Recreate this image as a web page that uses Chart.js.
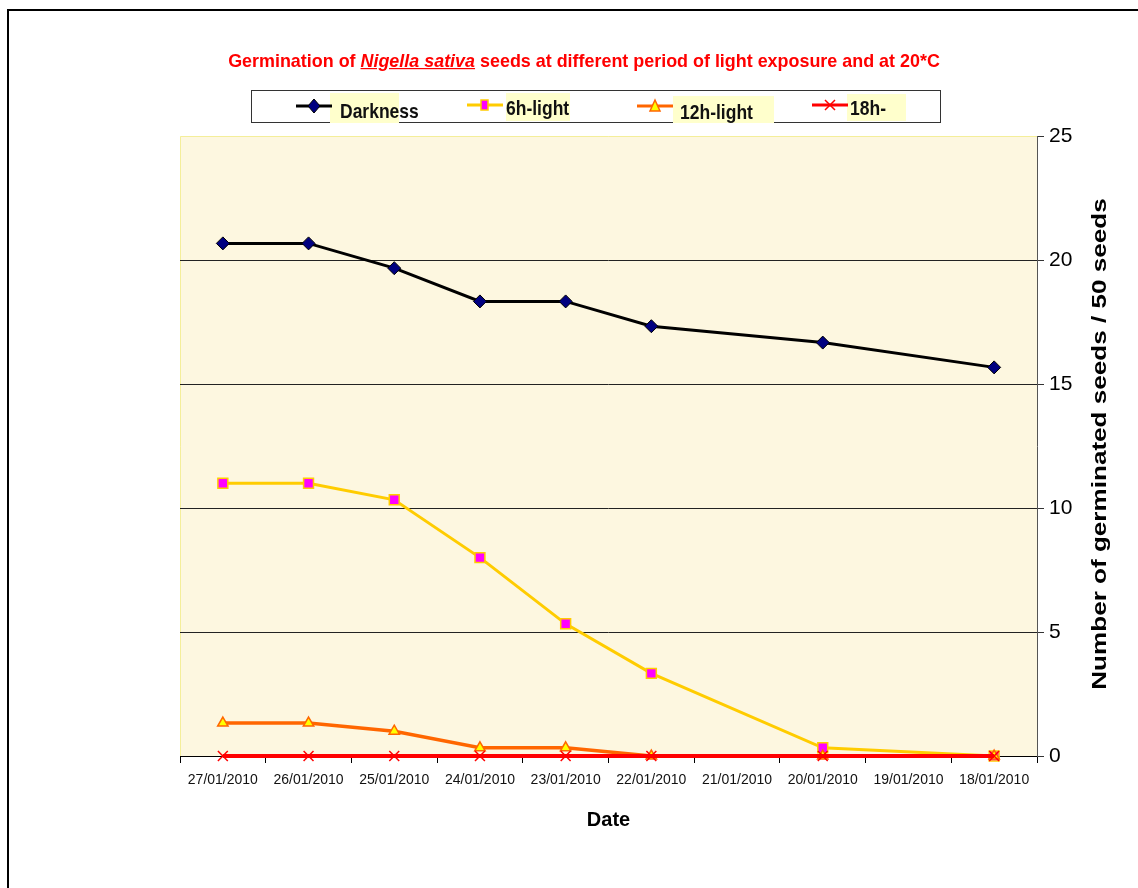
<!DOCTYPE html>
<html><head><meta charset="utf-8">
<script src="https://cdn.jsdelivr.net/npm/chart.js@4.4.1/dist/chart.umd.min.js"></script>
<style>
html,body{margin:0;padding:0;background:#fff;}
#wrap{position:relative;width:1138px;height:888px;overflow:hidden;font-family:"Liberation Sans",Arial,sans-serif;}
#c{position:absolute;left:0;top:0;}
#frame{position:absolute;left:7px;top:9px;width:1300px;height:1100px;border:2px solid #000;box-sizing:border-box;pointer-events:none;}
.abs{position:absolute;white-space:nowrap;}
#title{left:584px;top:50px;color:#FF0000;font-weight:bold;font-size:16px;transform:translateX(-50%) scaleY(1.2);transform-origin:center top;}
#title u{font-style:italic;}
#legend{left:251px;top:90px;width:690px;height:33px;border:1px solid #333;box-sizing:border-box;background:#fff;}
.hl{position:absolute;background:#FFFFCC;}
.lt{position:absolute;font-weight:bold;font-size:17.5px;color:#111;white-space:nowrap;transform:scaleY(1.2);transform-origin:left center;}
.mk{position:absolute;}
#ytitle{left:1099px;top:444px;font-weight:bold;font-size:21px;color:#000;}
</style></head>
<body><div id="wrap">
<canvas id="c" width="1138" height="888"></canvas>
<div id="frame"></div>
<div id="title" class="abs">Germination of <u>Nigella sativa</u> seeds at different period of light exposure and at 20*C</div>
<div id="legend" class="abs">
  <div class="hl" style="left:78px;top:2px;width:69px;height:30px;"></div>
  <div class="hl" style="left:254px;top:2px;width:64px;height:28px;"></div>
  <div class="hl" style="left:421px;top:5px;width:101px;height:27px;"></div>
  <div class="hl" style="left:595px;top:3px;width:59px;height:27px;"></div>
  <svg class="mk" style="left:43px;top:6px" width="38" height="18"><line x1="1" y1="9" x2="37" y2="9" stroke="#000" stroke-width="3"/><polygon points="19,2 25,9 19,16 13,9" fill="#000080" stroke="#000" stroke-width="1"/></svg>
  <svg class="mk" style="left:214px;top:5px" width="38" height="18"><line x1="1" y1="9" x2="37" y2="9" stroke="#FFCC00" stroke-width="3"/><rect x="15" y="4" width="7" height="10" fill="#FF00FF" stroke="#FFCC00" stroke-width="1.5"/></svg>
  <svg class="mk" style="left:384px;top:6px" width="38" height="18"><line x1="1" y1="9" x2="37" y2="9" stroke="#FF6600" stroke-width="3"/><polygon points="19,3 24,14 14,14" fill="#FFFF00" stroke="#FF6600" stroke-width="1.5"/></svg>
  <svg class="mk" style="left:559px;top:5px" width="38" height="18"><line x1="1" y1="9" x2="37" y2="9" stroke="#FF0000" stroke-width="3"/><path d="M14,4 L24,14 M24,4 L14,14" stroke="#FF0000" stroke-width="1.5"/></svg>
  <div class="lt" style="left:88px;top:10px;">Darkness</div>
  <div class="lt" style="left:254px;top:7px;">6h-light</div>
  <div class="lt" style="left:428px;top:11px;">12h-light</div>
  <div class="lt" style="left:598px;top:7px;">18h-</div>
</div>
<div id="ytitle" class="abs">Number of germinated seeds / 50 seeds</div>
</div>
<script>
const dates = ['27/01/2010','26/01/2010','25/01/2010','24/01/2010','23/01/2010','22/01/2010','21/01/2010','20/01/2010','19/01/2010','18/01/2010'];
const darkness = [20.67,20.67,19.67,18.33,18.33,17.33,null,16.67,null,15.67];
const light6h  = [11,11,10.33,8,5.33,3.33,null,0.33,null,0];
const light12h = [1.33,1.33,1,0.33,0.33,0,null,0,null,0];
const light18h = [0,0,0,0,0,0,null,0,null,0];
const yTicks = [0,5,10,15,20,25];

(function(){
  const el = document.getElementById('ytitle');
  const k = 492 / el.offsetWidth;
  el.style.transform = 'translate(-50%,-50%) rotate(-90deg) scaleX(' + k + ')';
  const t = document.getElementById('title');
  const kt = 712 / t.offsetWidth;
  t.style.transform = 'translateX(-50%) scale(' + kt + ',1.2)';
})();

const bgPlugin = {
  id: 'bg',
  beforeDraw(chart) {
    const {ctx, chartArea: a} = chart;
    ctx.save();
    ctx.fillStyle = '#FDF7E0';
    ctx.fillRect(a.left, a.top, a.right - a.left, a.bottom - a.top);
    ctx.strokeStyle = '#F4EE9A';
    ctx.lineWidth = 1;
    ctx.beginPath();
    ctx.moveTo(a.left + 0.5, a.bottom);
    ctx.lineTo(a.left + 0.5, a.top + 0.5);
    ctx.lineTo(a.right, a.top + 0.5);
    ctx.stroke();
    ctx.restore();
  }
};

const YW = 60;
const FONT = '"Liberation Sans", Arial, sans-serif';
new Chart(document.getElementById('c'), {
  type: 'line',
  data: {
    labels: dates,
    datasets: [
      {label:'Darkness', data: darkness, borderColor:'#000000', borderWidth:3, pointStyle:'rectRot', pointRadius:6.5, pointBackgroundColor:'#000080', pointBorderColor:'#000000', pointBorderWidth:1, spanGaps:true, tension:0, clip:false, order:4},
      {label:'6h-light', data: light6h, borderColor:'#FFCC00', borderWidth:3, pointStyle:'rect', pointRadius:7, pointBackgroundColor:'#FF00FF', pointBorderColor:'#FFCC00', pointBorderWidth:1.5, spanGaps:true, tension:0, clip:false, order:3},
      {label:'12h-light', data: light12h, borderColor:'#FF6600', borderWidth:3.5, pointStyle:'triangle', pointRadius:6, pointBackgroundColor:'#FFFF00', pointBorderColor:'#FF6600', pointBorderWidth:1.5, spanGaps:true, tension:0, clip:false, order:2},
      {label:'18h-', data: light18h, borderColor:'#FF0000', borderWidth:4, pointStyle:'crossRot', pointRadius:7, pointBackgroundColor:'#FF0000', pointBorderColor:'#FF0000', pointBorderWidth:1.5, spanGaps:true, tension:0, clip:false, order:1}
    ]
  },
  options: {
    responsive:false, animation:false, events:[],
    layout:{padding:{left:180, top:136, right:1138-1037-YW, bottom:888-756-80}},
    plugins:{legend:{display:false}, title:{display:false}, tooltip:{enabled:false}},
    scales:{
      x:{
        offset:true,
        grid:{offset:true, drawOnChartArea:false, drawTicks:true, tickLength:7, color:'#000', tickColor:'#000'},
        border:{display:true, color:'#000', width:1},
        ticks:{color:'#111', font:{family:FONT, size:14}, padding:9, maxRotation:0, autoSkip:false},
        title:{display:true, text:'Date', color:'#000', font:{family:FONT, size:20, weight:'bold'}, padding:{top:0,bottom:4}},
        afterFit(s){ s.height = 80; }
      },
      y:{
        position:'right', min:0, max:25,
        afterBuildTicks(s){ s.ticks = yTicks.map(v => ({value:v})); },
        grid:{drawOnChartArea:true, drawTicks:true, tickLength:7, lineWidth:1,
          color:(c)=> (c.tick && (c.tick.value === 0 || c.tick.value === 25)) ? 'rgba(0,0,0,0)' : '#222',
          tickColor:'#333'},
        border:{display:true, color:'#555', width:1},
        ticks:{color:'#000', font:{family:FONT, size:21}, padding:5},
        afterFit(s){ s.width = YW; }
      }
    }
  },
  plugins:[bgPlugin]
});
</script>
</body></html>
